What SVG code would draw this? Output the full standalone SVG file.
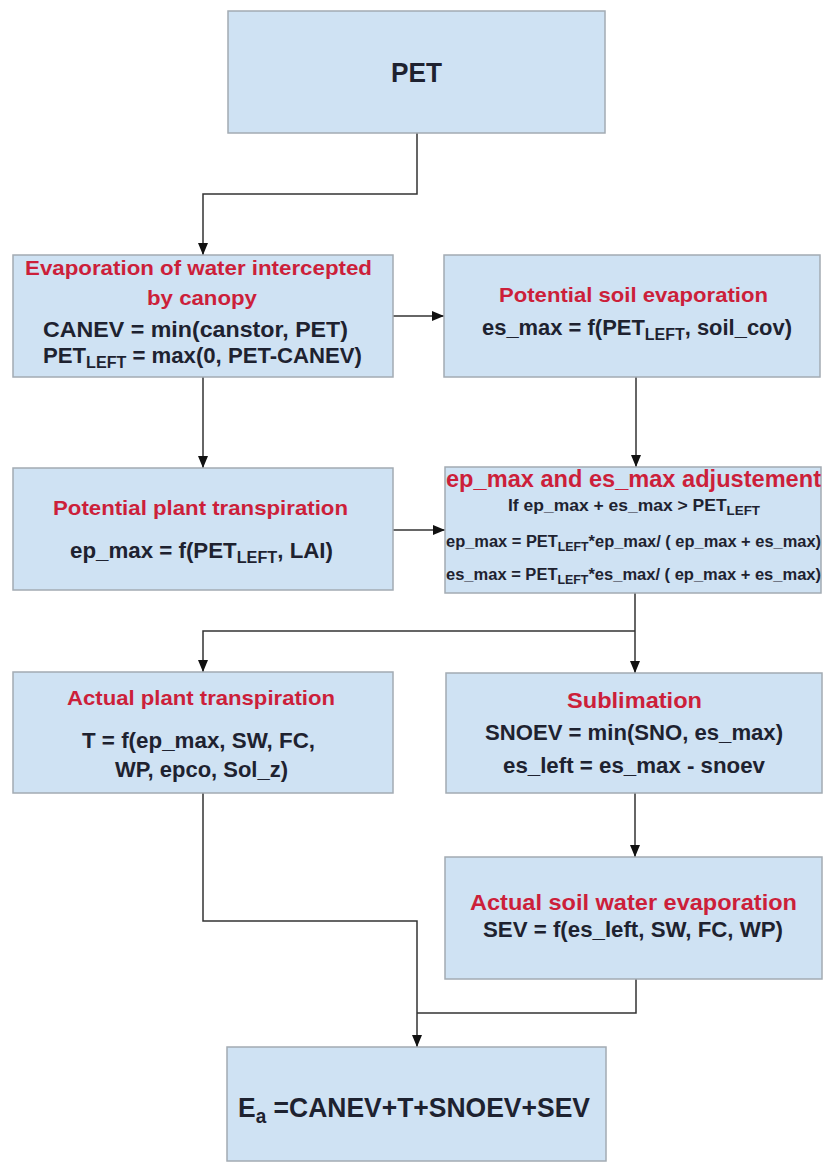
<svg xmlns="http://www.w3.org/2000/svg" width="824" height="1166" viewBox="0 0 824 1166">
<style>
.box{fill:#cfe2f3;stroke:#a3abb3;stroke-width:1.5}
.t{font-family:"Liberation Sans",Arial,sans-serif;font-weight:bold;text-anchor:start}
.red{fill:#cc1f3a}
.blk{fill:#1e2230}
.con{fill:none;stroke:#333;stroke-width:1.5}
</style>
<defs>
<marker id="arr" markerUnits="userSpaceOnUse" markerWidth="12" markerHeight="10" refX="12" refY="5" orient="auto">
<path d="M0,0 L12,5 L0,10 z" fill="#111"/>
</marker>
</defs>
<rect width="824" height="1166" fill="#fff"/>
<g id="connectors">
<path class="con" d="M417,133 V194 H203 V255" marker-end="url(#arr)"/>
<path class="con" d="M393,316 H444" marker-end="url(#arr)"/>
<path class="con" d="M203,377 V468" marker-end="url(#arr)"/>
<path class="con" d="M636,377 V467" marker-end="url(#arr)"/>
<path class="con" d="M393,530 H445" marker-end="url(#arr)"/>
<path class="con" d="M635,593 V673" marker-end="url(#arr)"/>
<path class="con" d="M635,631 H203 V672" marker-end="url(#arr)"/>
<path class="con" d="M635,793 V857" marker-end="url(#arr)"/>
<path class="con" d="M203,793 V921 H417 V1047" marker-end="url(#arr)"/>
<path class="con" d="M636,979 V1013 H417"/>
</g>
<g id="pet">
<rect class="box" x="228" y="11" width="377" height="122"/>
<text class="t blk" x="391" y="82" font-size="28" textLength="51" lengthAdjust="spacingAndGlyphs">PET</text>
</g>
<g id="canopy">
<rect class="box" x="13" y="255" width="380" height="122"/>
<text class="t red" x="25" y="275" font-size="21" textLength="347" lengthAdjust="spacingAndGlyphs">Evaporation of water intercepted</text>
<text class="t red" x="147" y="305" font-size="21" textLength="110" lengthAdjust="spacingAndGlyphs">by canopy</text>
<text class="t blk" x="43" y="337" font-size="22" textLength="305" lengthAdjust="spacingAndGlyphs">CANEV = min(canstor, PET)</text>
<text class="t blk" x="43" y="363" font-size="22" textLength="319" lengthAdjust="spacingAndGlyphs">PET<tspan font-size="16" dy="5">LEFT</tspan><tspan dy="-5"> = max(0, PET-CANEV)</tspan></text>
</g>
<g id="soil">
<rect class="box" x="444" y="255" width="376" height="122"/>
<text class="t red" x="499" y="302" font-size="21" textLength="269" lengthAdjust="spacingAndGlyphs">Potential soil evaporation</text>
<text class="t blk" x="482" y="335" font-size="22" textLength="310" lengthAdjust="spacingAndGlyphs">es_max = f(PET<tspan font-size="16" dy="5">LEFT</tspan><tspan dy="-5">, soil_cov)</tspan></text>
</g>
<g id="plant">
<rect class="box" x="13" y="468" width="380" height="122"/>
<text class="t red" x="53" y="515" font-size="21" textLength="295" lengthAdjust="spacingAndGlyphs">Potential plant transpiration</text>
<text class="t blk" x="70" y="558" font-size="22" textLength="263" lengthAdjust="spacingAndGlyphs">ep_max = f(PET<tspan font-size="16" dy="5">LEFT</tspan><tspan dy="-5">, LAI)</tspan></text>
</g>
<g id="adjust">
<rect class="box" x="445" y="467" width="376" height="126"/>
<text class="t red" x="446" y="487" font-size="23" textLength="375" lengthAdjust="spacingAndGlyphs">ep_max and es_max adjustement</text>
<text class="t blk" x="508" y="511" font-size="17" textLength="252" lengthAdjust="spacingAndGlyphs">If ep_max + es_max &gt; PET<tspan font-size="13" dy="4">LEFT</tspan></text>
<text class="t blk" x="446" y="547" font-size="16" textLength="375" lengthAdjust="spacingAndGlyphs">ep_max = PET<tspan font-size="12" dy="4">LEFT</tspan><tspan dy="-4">*ep_max/ ( ep_max + es_max)</tspan></text>
<text class="t blk" x="446" y="580" font-size="16" textLength="375" lengthAdjust="spacingAndGlyphs">es_max = PET<tspan font-size="12" dy="4">LEFT</tspan><tspan dy="-4">*es_max/ ( ep_max + es_max)</tspan></text>
</g>
<g id="actual-plant">
<rect class="box" x="13" y="672" width="380" height="121"/>
<text class="t red" x="67" y="705" font-size="21" textLength="268" lengthAdjust="spacingAndGlyphs">Actual plant transpiration</text>
<text class="t blk" x="82" y="748" font-size="22" textLength="233" lengthAdjust="spacingAndGlyphs">T = f(ep_max, SW, FC,</text>
<text class="t blk" x="115" y="777" font-size="22" textLength="173" lengthAdjust="spacingAndGlyphs">WP, epco, Sol_z)</text>
</g>
<g id="sublimation">
<rect class="box" x="446" y="673" width="376" height="120"/>
<text class="t red" x="567" y="708" font-size="22" textLength="135" lengthAdjust="spacingAndGlyphs">Sublimation</text>
<text class="t blk" x="485" y="740" font-size="22" textLength="298" lengthAdjust="spacingAndGlyphs">SNOEV = min(SNO, es_max)</text>
<text class="t blk" x="503" y="773" font-size="22" textLength="262" lengthAdjust="spacingAndGlyphs">es_left = es_max - snoev</text>
</g>
<g id="soil-evap">
<rect class="box" x="445" y="857" width="377" height="122"/>
<text class="t red" x="470" y="910" font-size="22" textLength="327" lengthAdjust="spacingAndGlyphs">Actual soil water evaporation</text>
<text class="t blk" x="483" y="937" font-size="22" textLength="300" lengthAdjust="spacingAndGlyphs">SEV = f(es_left, SW, FC, WP)</text>
</g>
<g id="ea">
<rect class="box" x="227" y="1047" width="379" height="114"/>
<text class="t blk" x="238" y="1117" font-size="28" textLength="352" lengthAdjust="spacingAndGlyphs">E<tspan font-size="20" dy="6">a</tspan><tspan dy="-6"> =CANEV+T+SNOEV+SEV</tspan></text>
</g>
</svg>
